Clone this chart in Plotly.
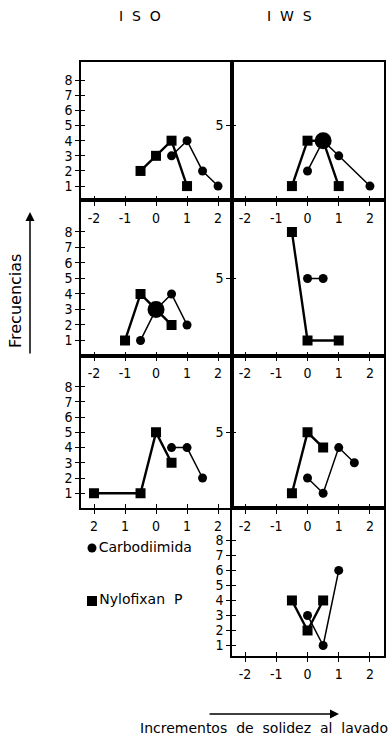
import plotly.graph_objects as go

W, H = 391, 744
def fx(p): return p / W
def fy(p): return 1 - p / H

# ---------------- data ----------------
x_ticks = [-2, -1, 0, 1, 2]
x_ticktext = ["-2", "-1", "0", "1", "2"]
x_ticktext_iso3 = ["2", "1", "0", "1", "2"]
y_ticks_full = [1, 2, 3, 4, 5, 6, 7, 8]
y_ticks_iws = [5]

legend_names = ["Carbodiimida", "Nylofixan\u00a0 P"]

# ISO row 1
iso1_nyl_x = [-0.5, 0, 0.5, 1];   iso1_nyl_y = [2, 3, 4, 1]
iso1_carb_x = [0.5, 1, 1.5, 2];   iso1_carb_y = [3, 4, 2, 1]
# IWS row 1
iws1_nyl_x = [-0.5, 0, 0.5, 1];   iws1_nyl_y = [1, 4, 4, 1]
iws1_carb_x = [0, 0.5, 1, 2];     iws1_carb_y = [2, 4, 3, 1]
iws1_both_x = [0.5];              iws1_both_y = [4]
# ISO row 2
iso2_nyl_x = [-1, -0.5, 0, 0.5];  iso2_nyl_y = [1, 4, 3, 2]
iso2_carb_x = [-0.5, 0, 0.5, 1];  iso2_carb_y = [1, 3, 4, 2]
iso2_both_x = [0];                iso2_both_y = [3]
# IWS row 2
iws2_nyl_x = [-0.5, 0, 1];        iws2_nyl_y = [8, 1, 1]
iws2_carb_x = [0, 0.5];           iws2_carb_y = [5, 5]
# ISO row 3
iso3_nyl_x = [-2, -0.5, 0, 0.5];  iso3_nyl_y = [1, 1, 5, 3]
iso3_carb_x = [0.5, 1, 1.5];      iso3_carb_y = [4, 4, 2]
# IWS row 3
iws3_nyl_x = [-0.5, 0, 0.5];      iws3_nyl_y = [1, 5, 4]
iws3_carb_x = [0, 0.5, 1, 1.5];   iws3_carb_y = [2, 1, 4, 3]
# IWS row 4
iws4_nyl_x = [-0.5, 0, 0.5];      iws4_nyl_y = [4, 2, 4]
iws4_carb_x = [0, 0.5, 1];        iws4_carb_y = [3, 1, 6]

# ---------------- layout geometry ----------------
LEFT = (81, 232)
RIGHT = (232, 384)
panels = [
    dict(xd=LEFT,  yd=(62, 200),  yr=(0.08, 9.2),  yt=y_ticks_full, xt=x_ticktext,
         nyl=(iso1_nyl_x, iso1_nyl_y), carb=(iso1_carb_x, iso1_carb_y), both=None),
    dict(xd=RIGHT, yd=(62, 200),  yr=(0.08, 9.2),  yt=y_ticks_iws, xt=x_ticktext,
         nyl=(iws1_nyl_x, iws1_nyl_y), carb=(iws1_carb_x, iws1_carb_y), both=(iws1_both_x, iws1_both_y)),
    dict(xd=LEFT,  yd=(200, 355.5), yr=(0.03, 10.06), yt=y_ticks_full, xt=x_ticktext,
         nyl=(iso2_nyl_x, iso2_nyl_y), carb=(iso2_carb_x, iso2_carb_y), both=(iso2_both_x, iso2_both_y)),
    dict(xd=RIGHT, yd=(200, 355.5), yr=(0.03, 10.06), yt=y_ticks_iws, xt=x_ticktext,
         nyl=(iws2_nyl_x, iws2_nyl_y), carb=(iws2_carb_x, iws2_carb_y), both=None),
    dict(xd=LEFT,  yd=(355.5, 508), yr=(0.03, 10.05), yt=y_ticks_full, xt=x_ticktext_iso3,
         nyl=(iso3_nyl_x, iso3_nyl_y), carb=(iso3_carb_x, iso3_carb_y), both=None),
    dict(xd=RIGHT, yd=(355.5, 508), yr=(0.03, 10.05), yt=y_ticks_iws, xt=x_ticktext,
         nyl=(iws3_nyl_x, iws3_nyl_y), carb=(iws3_carb_x, iws3_carb_y), both=None),
    dict(xd=RIGHT, yd=(508, 656),   yr=(0.3, 10.16), yt=y_ticks_full, xt=x_ticktext,
         nyl=(iws4_nyl_x, iws4_nyl_y), carb=(iws4_carb_x, iws4_carb_y), both=None),
]

TICKFONT = dict(family="Liberation Sans Narrow, DejaVu Sans Condensed, DejaVu Sans", size=14, color="black")
TEXTFONT = dict(family="DejaVu Sans", size=14, color="black")
TITLEFONT = dict(family="DejaVu Sans", size=14, color="black")
X_RANGE = [-2.42, 2.45]

fig = go.Figure()
layout = dict(width=W, height=H, margin=dict(l=0, r=0, t=0, b=0),
              paper_bgcolor="white", plot_bgcolor="white", showlegend=False)

for i, p in enumerate(panels, start=1):
    xa = "x" if i == 1 else f"x{i}"
    ya = "y" if i == 1 else f"y{i}"
    xkey = "xaxis" if i == 1 else f"xaxis{i}"
    ykey = "yaxis" if i == 1 else f"yaxis{i}"
    layout[xkey] = dict(domain=[fx(p["xd"][0]), fx(p["xd"][1])], anchor=ya,
                        range=X_RANGE, tickvals=x_ticks, ticktext=p["xt"],
                        ticks="outside", ticklen=4, tickwidth=1.3, tickcolor="black",
                        showline=True, mirror=True, linecolor="black", linewidth=1.6,
                        showgrid=False, zeroline=False, tickfont=TICKFONT)
    layout[ykey] = dict(domain=[fy(p["yd"][1]), fy(p["yd"][0])], anchor=xa,
                        range=list(p["yr"]), tickvals=p["yt"], ticktext=[str(v) for v in p["yt"]],
                        ticks="outside", ticklen=4, tickwidth=1.3, tickcolor="black",
                        showline=True, mirror=True, linecolor="black", linewidth=1.6,
                        showgrid=False, zeroline=False, tickfont=TICKFONT)
    # overlay axes giving the inner half of the crossing tick marks
    k = 10 + i
    layout[f"xaxis{k}"] = dict(overlaying=xa, anchor=ya, range=X_RANGE, tickvals=x_ticks,
                               ticks="inside", ticklen=4, tickwidth=1.3, tickcolor="black",
                               showticklabels=False, showline=False, showgrid=False, zeroline=False)
    layout[f"yaxis{k}"] = dict(overlaying=ya, anchor=xa, range=list(p["yr"]), tickvals=p["yt"],
                               ticks="inside", ticklen=4, tickwidth=1.3, tickcolor="black",
                               showticklabels=False, showline=False, showgrid=False, zeroline=False)
    fig.add_trace(go.Scatter(x=[None], y=[None], xaxis=f"x{k}", yaxis=f"y{k}",
                             mode="markers", showlegend=False, hoverinfo="skip"))

    cx, cy = p["carb"]
    fig.add_trace(go.Scatter(x=cx, y=cy, xaxis=xa, yaxis=ya, mode="lines+markers",
                             line=dict(color="black", width=1.5),
                             marker=dict(symbol="circle", size=9, color="black"),
                             name=legend_names[0], showlegend=False))
    nx, ny = p["nyl"]
    fig.add_trace(go.Scatter(x=nx, y=ny, xaxis=xa, yaxis=ya, mode="lines+markers",
                             line=dict(color="black", width=2.4),
                             marker=dict(symbol="square", size=10, color="black"),
                             name=legend_names[1], showlegend=False))
    if p["both"] is not None:
        bx, by = p["both"]
        fig.add_trace(go.Scatter(x=bx, y=by, xaxis=xa, yaxis=ya, mode="markers",
                                 marker=dict(symbol="circle", size=17, color="black"),
                                 showlegend=False, hoverinfo="skip"))

# legend area on a hidden axis
layout["xaxis8"] = dict(domain=[fx(80), fx(232)], anchor="y8", range=[-12, 140], visible=False)
layout["yaxis8"] = dict(domain=[fy(612), fy(538)], anchor="x8", range=[-0.208, 1.189], visible=False)
legend_pos_y = [1, 0]
fig.add_trace(go.Scatter(x=[0], y=[legend_pos_y[0]], xaxis="x8", yaxis="y8", mode="markers+text",
                         marker=dict(symbol="circle", size=9, color="black"),
                         text=[legend_names[0]], textposition="middle right", textfont=TEXTFONT,
                         showlegend=False, hoverinfo="skip"))
fig.add_trace(go.Scatter(x=[0], y=[legend_pos_y[1]], xaxis="x8", yaxis="y8", mode="markers+text",
                         marker=dict(symbol="square", size=10, color="black"),
                         text=[legend_names[1]], textposition="middle right", textfont=TEXTFONT,
                         showlegend=False, hoverinfo="skip"))

annotations = [
    dict(text="I\u00a0 S\u00a0 O", x=fx(140), y=fy(16), xref="paper", yref="paper", showarrow=False,
         font=TITLEFONT, xanchor="center", yanchor="middle"),
    dict(text="I\u00a0 W\u00a0 S", x=fx(289), y=fy(16), xref="paper", yref="paper", showarrow=False,
         font=TITLEFONT, xanchor="center", yanchor="middle"),
    dict(text="Frecuencias", x=fx(15), y=fy(301), xref="paper", yref="paper", showarrow=False,
         textangle=-90, font=dict(family="DejaVu Sans", size=16, color="black"),
         xanchor="center", yanchor="middle"),
    dict(text="", x=fx(30), y=fy(212), xref="paper", yref="paper", showarrow=True,
         ax=0, ay=143, arrowhead=2, arrowsize=1.2, arrowwidth=1.5, arrowcolor="black"),
    dict(text="Incrementos\u00a0 de\u00a0 solidez\u00a0 al\u00a0 lavado", x=fx(390), y=fy(728),
         xref="paper", yref="paper", showarrow=False, font=dict(family="DejaVu Sans", size=14, color="black"),
         xanchor="right", yanchor="middle"),
    dict(text="", x=fx(339), y=fy(714), xref="paper", yref="paper", showarrow=True,
         ax=-131, ay=0, arrowhead=2, arrowsize=1.2, arrowwidth=1.5, arrowcolor="black"),
]
layout["annotations"] = annotations
fig.update_layout(**layout)
fig.write_html("out.html")
